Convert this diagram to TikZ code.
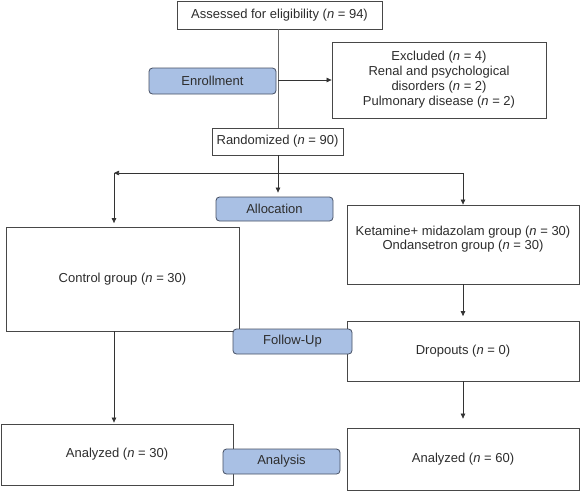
\documentclass[tikz,border=0pt]{standalone}
\usepackage{fontspec}
\setmainfont{Liberation Sans}
\usetikzlibrary{arrows.meta}
\definecolor{bluefill}{RGB}{169,192,228}
\definecolor{blueline}{RGB}{70,80,100}
\definecolor{txt}{RGB}{45,45,45}
\begin{document}
\begin{tikzpicture}[x=1pt,y=-1pt,
  font=\fontsize{13}{15}\selectfont, text=txt,
  box/.style={draw=black!72, line width=0.8pt, fill=white, inner sep=0pt, align=center},
  stage/.style={draw=blueline, fill=bluefill, rounded corners=3.5pt, line width=0.8pt, inner sep=0pt},
  conn/.style={draw=black!80, line width=0.7pt},
  arr/.style={conn, -{Triangle[length=5pt,width=4.5pt]}}]
\useasboundingbox (0,0) rectangle (580,491);

% white boxes
\node[box, minimum width=205, minimum height=28] (assess) at (279.5,15) {Assessed for eligibility (\textit{n} = 94)};
\node[box, minimum width=214, minimum height=76] (excl) at (439,80) {Excluded (\textit{n} = 4)\\Renal and psychological\\disorders (\textit{n} = 2)\\Pulmonary disease (\textit{n} = 2)};
\node[box, minimum width=131, minimum height=27] (rand) at (277.5,141.5) {Randomized (\textit{n} = 90)};
\node[box, minimum width=233, minimum height=104] (control) at (122.5,279) {Control group (\textit{n} = 30)};
\node[box, minimum width=232, minimum height=79] (keta) at (463,244.5) {};
\node[align=center, inner sep=0pt, font=\fontsize{13}{14.5}\selectfont] (ketatext) at (463,239) {Ketamine+ midazolam group (\textit{n} = 30)\\Ondansetron group (\textit{n} = 30)};
\node[box, minimum width=232, minimum height=60] (drop) at (463,351) {Dropouts (\textit{n} = 0)};
\node[box, minimum width=232, minimum height=61] (an1) at (117,454.5) {Analyzed (\textit{n} = 30)};
\node[box, minimum width=232, minimum height=62] (an2) at (463,459) {Analyzed (\textit{n} = 60)};

% stage labels
\node[stage, minimum width=127, minimum height=26] (enroll) at (212.5,81) {Enrollment};
\node[stage, minimum width=117, minimum height=24] (alloc) at (274.5,209) {Allocation};
\node[stage, minimum width=119, minimum height=25] (follow) at (292.5,341.5) {Follow-Up};
\node[stage, minimum width=117, minimum height=25] (analysis) at (281.5,461.5) {Analysis};

% connectors
\coordinate (ej) at (278,80);
\coordinate (split) at (278,173);
\coordinate (lc) at (114,173);
\draw[conn, draw=black!60] (assess.south -| split) -- (rand.north -| split);
\draw[arr] (ej) -- (excl.west);
\draw[conn] (rand.south -| split) -- (split);
\draw[arr] (split) -- (lc);
\draw[arr, shorten >=3.5pt] (lc) -- (lc |- control.north);
\draw[arr, shorten >=4pt] (split) -- (split |- alloc.north);
\draw[arr] (split) -| (keta.north);
\draw[arr, shorten >=4.5pt] (keta.south) -- (drop.north);
\draw[arr, shorten >=9pt] (drop.south) -- (an2.north);
\draw[arr, shorten >=1pt] (control.south -| lc) -- (an1.north -| lc);
\end{tikzpicture}
\end{document}
